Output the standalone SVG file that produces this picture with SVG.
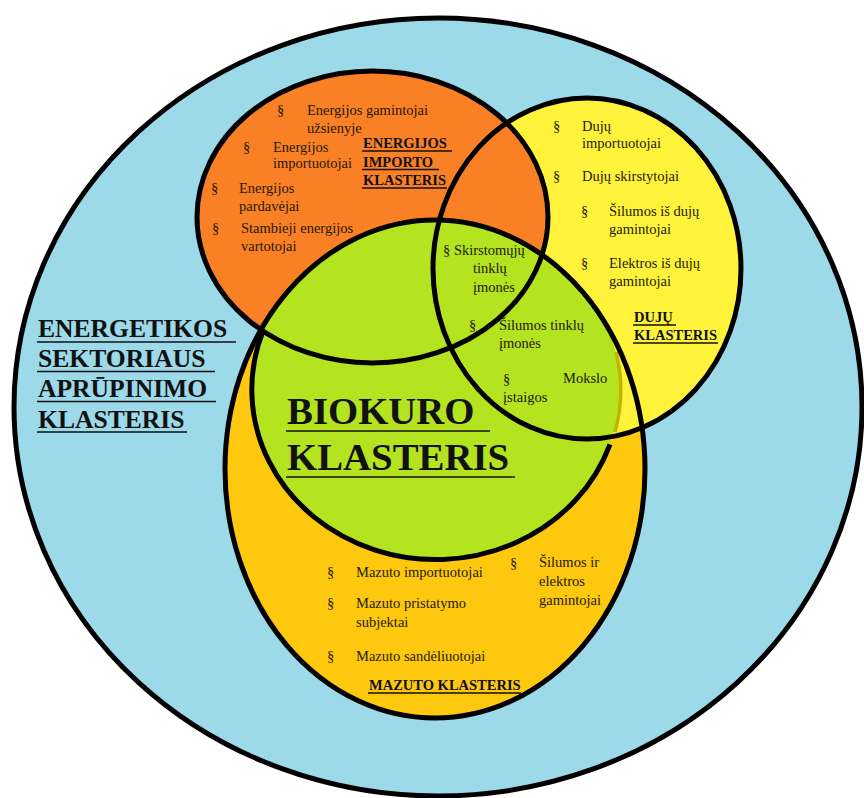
<svg xmlns="http://www.w3.org/2000/svg" width="864" height="798" viewBox="0 0 864 798">
<style>
.o{fill:none;stroke:#000;stroke-width:5}
.t{font-family:"Liberation Serif","Times New Roman",serif;font-size:14.5px;fill:#1e1a00}
.h{font-family:"Liberation Serif","Times New Roman",serif;font-size:14.5px;font-weight:bold;fill:#111}
.u{stroke:#111;stroke-width:1.6}
.L{font-family:"Liberation Serif","Times New Roman",serif;font-size:25.6px;font-weight:bold;fill:#111}
.B{font-family:"Liberation Serif","Times New Roman",serif;font-size:38.8px;font-weight:bold;fill:#111}
</style>
<defs>
<clipPath id="mz"><ellipse cx="435" cy="469" rx="210" ry="249"/></clipPath>
</defs>
<rect width="864" height="798" fill="#fff"/>
<g id="energetikos">
<ellipse cx="438" cy="407" rx="424" ry="389" fill="#9cd9e9"/>
</g>
<g id="mazuto">
<ellipse cx="435" cy="469" rx="210" ry="249" fill="#fec80f"/>
</g>
<g id="duju">
<ellipse cx="587" cy="268.5" rx="154" ry="170.5" fill="#fef33a"/>
</g>
<g id="importo">
<ellipse cx="372.5" cy="217" rx="175.5" ry="146" fill="#fa8026"/>
</g>
<g id="biokuro">
<ellipse cx="436" cy="389" rx="184" ry="170" fill="#b4e31f" clip-path="url(#mz)"/>
<path d="M616,352 A182,168 0 0 1 615,432" fill="none" stroke="#c4b400" stroke-width="3.5"/>
</g>
<g id="connectors">
<ellipse class="o" cx="438" cy="407" rx="424" ry="389" stroke-width="4.5"/>
<ellipse class="o" cx="435" cy="469" rx="210" ry="249"/>
<ellipse class="o" cx="372.5" cy="217" rx="175.5" ry="146"/>
<ellipse class="o" cx="587" cy="268.5" rx="154" ry="170.5"/>
<path class="o" d="M263.1,330.9 A184,170 0 1 0 610,444.3"/>
</g>
<g id="texts-energetikos">
<text class="L" x="38" y="337">ENERGETIKOS</text>
<text class="L" x="38" y="367">SEKTORIAUS</text>
<text class="L" x="38" y="397">APRŪPINIMO</text>
<text class="L" x="38" y="428">KLASTERIS</text>
<line class="u" x1="37" y1="342" x2="236" y2="342" stroke-width="2"/>
<line class="u" x1="37" y1="371.5" x2="215" y2="371.5" stroke-width="2"/>
<line class="u" x1="37" y1="401.5" x2="216" y2="401.5" stroke-width="2"/>
<line class="u" x1="37" y1="432" x2="187" y2="432" stroke-width="2"/>
</g>
<g id="texts-importo">
<text class="t" x="277" y="115">§</text>
<text class="t" x="307" y="115">Energijos gamintojai</text>
<text class="t" x="307" y="133">užsienyje</text>
<text class="t" x="243" y="152">§</text>
<text class="t" x="273" y="152">Energijos</text>
<text class="t" x="273" y="168">importuotojai</text>
<text class="t" x="211" y="193">§</text>
<text class="t" x="239" y="193">Energijos</text>
<text class="t" x="239" y="211">pardavėjai</text>
<text class="t" x="212" y="233">§</text>
<text class="t" x="241" y="233">Stambieji energijos</text>
<text class="t" x="241" y="251">vartotojai</text>
<text class="h" x="363" y="148">ENERGIJOS</text>
<text class="h" x="363" y="167">IMPORTO</text>
<text class="h" x="363" y="185">KLASTERIS</text>
<line class="u" x1="362" y1="151" x2="452" y2="151"/>
<line class="u" x1="362" y1="169.5" x2="439" y2="169.5"/>
<line class="u" x1="362" y1="188" x2="447" y2="188"/>
</g>
<g id="texts-duju">
<text class="t" x="553" y="131">§</text>
<text class="t" x="582" y="131">Dujų</text>
<text class="t" x="582" y="148">importuotojai</text>
<text class="t" x="553" y="181">§</text>
<text class="t" x="582" y="181">Dujų skirstytojai</text>
<text class="t" x="581" y="216">§</text>
<text class="t" x="609" y="216">Šilumos iš dujų</text>
<text class="t" x="609" y="234">gamintojai</text>
<text class="t" x="581" y="268">§</text>
<text class="t" x="609" y="268">Elektros iš dujų</text>
<text class="t" x="609" y="286">gamintojai</text>
<text class="h" x="634" y="322">DUJŲ</text>
<text class="h" x="634" y="340">KLASTERIS</text>
<line class="u" x1="633" y1="325" x2="676" y2="325"/>
<line class="u" x1="633" y1="343" x2="718" y2="343"/>
</g>
<g id="texts-biokuro">
<text class="t" x="443" y="255">§ Skirstomųjų</text>
<text class="t" x="473" y="273">tinklų</text>
<text class="t" x="473" y="292">įmonės</text>
<text class="t" x="469" y="330">§</text>
<text class="t" x="499" y="330">Šilumos tinklų</text>
<text class="t" x="499" y="348">įmonės</text>
<text class="t" x="503" y="384">§</text>
<text class="t" x="563" y="383">Mokslo</text>
<text class="t" x="503" y="402">įstaigos</text>
<text class="B" x="287" y="424">BIOKURO</text>
<text class="B" x="287" y="470">KLASTERIS</text>
<line class="u" x1="286" y1="431" x2="490" y2="431" stroke-width="2.5"/>
<line class="u" x1="286" y1="477" x2="515" y2="477" stroke-width="2.5"/>
</g>
<g id="texts-mazuto">
<text class="t" x="327" y="577">§</text>
<text class="t" x="356" y="577">Mazuto importuotojai</text>
<text class="t" x="327" y="608">§</text>
<text class="t" x="356" y="608">Mazuto pristatymo</text>
<text class="t" x="356" y="627">subjektai</text>
<text class="t" x="327" y="661">§</text>
<text class="t" x="356" y="661">Mazuto sandėliuotojai</text>
<text class="t" x="510" y="568">§</text>
<text class="t" x="539" y="567">Šilumos ir</text>
<text class="t" x="539" y="586">elektros</text>
<text class="t" x="539" y="605">gamintojai</text>
<text class="h" x="369" y="690">MAZUTO KLASTERIS</text>
<line class="u" x1="368" y1="693" x2="521" y2="693"/>
</g>
</svg>
